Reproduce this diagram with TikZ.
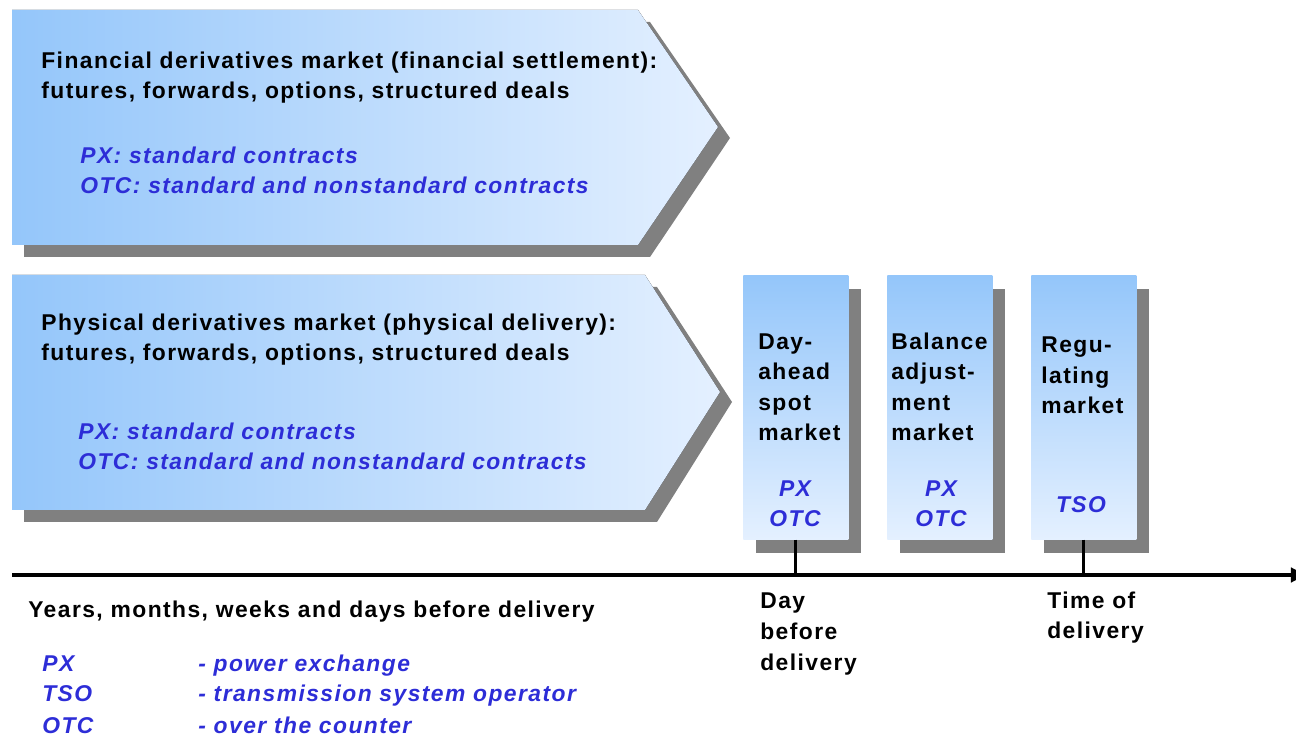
\documentclass[tikz,border=0pt]{standalone}
\usepackage{fontspec}
\setmainfont{Liberation Sans}[LetterSpace=6.3]
\usetikzlibrary{arrows.meta}

\definecolor{skyblue}{RGB}{148,198,250}
\definecolor{paleblue}{RGB}{228,240,255}
\definecolor{shadowgray}{RGB}{128,128,128}
\definecolor{abbrblue}{RGB}{45,45,215}

\tikzset{
  txt/.style={anchor=base west,inner sep=0pt,align=left,font=\fontsize{13}{17.4}\selectfont\bfseries},
  abbr/.style={txt,text=abbrblue,font=\fontsize{13}{17.4}\selectfont\bfseries\itshape},
  mkt/.style={anchor=north west,inner sep=0pt,minimum width=2.1cm,minimum height=5.28cm,
    top color=skyblue,bottom color=paleblue},
  tick/.style={line width=1.6pt,black},
  axisline/.style={line width=2.6pt,black}
}

\begin{document}
\begin{tikzpicture}[x=0.02cm,y=-0.02cm]
  \useasboundingbox (0,0) rectangle (1296,736);

  % shadows
  \fill[shadowgray] (24,22) -- (650,22) -- (730,138) -- (650,257) -- (24,257) -- cycle;
  \fill[shadowgray] (24,287) -- (657,287) -- (732,402) -- (657,522) -- (24,522) -- cycle;
  \fill[shadowgray] (756,289) rectangle (861,553);
  \fill[shadowgray] (900,289) rectangle (1005,553);
  \fill[shadowgray] (1044,289) rectangle (1149,553);

  \fill[left color=skyblue,right color=paleblue] (12,10) -- (638,10) -- (718,127) -- (638,245) -- (12,245) -- cycle;
  \fill[left color=skyblue,right color=paleblue] (12,275) -- (645,275) -- (720,392) -- (645,510) -- (12,510) -- cycle;

  \node[txt] (fin) at (41,99) {Financial derivatives market (financial settlement):\\futures, forwards, options, structured deals};
  \node[abbr] (finpx) at (80,194) {PX: standard contracts\\OTC: standard and nonstandard contracts};
  \node[txt] (phys) at (41,361) {Physical derivatives market (physical delivery):\\futures, forwards, options, structured deals};
  \node[abbr] (physpx) at (78,470) {PX: standard contracts\\OTC: standard and nonstandard contracts};

  \node[mkt] (day) at (743,275) {};
  \node[mkt] (bal) at (887,275) {};
  \node[mkt] (reg) at (1031,275) {};

  \node[txt] (daytxt) at (758,441) {Day-\\ahead\\spot\\market};
  \node[abbr,anchor=base,align=center] (dayabbr) at (795,527) {PX\\OTC};
  \node[txt] (baltxt) at (891,441) {Balance\\adjust-\\ment\\market};
  \node[abbr,anchor=base,align=center] (balabbr) at (941,527) {PX\\OTC};
  \node[txt] (regtxt) at (1041,414) {Regu-\\lating\\market};
  \node[abbr,anchor=base] (regabbr) at (1081,513) {TSO};

  \coordinate (axisL) at (12,575);
  \coordinate (axisR) at (1312,575);
  \draw[axisline,-{Latex[length=12pt]}] (axisL) -- (axisR);
  \draw[tick] (day.south) -- (day.south |- axisL);
  \draw[tick] (reg.south) -- (reg.south |- axisL);

  \node[txt] (years) at (28,618) {Years, months, weeks and days before delivery};
  \node[txt] (daybefore) at (760,670) {Day\\before\\delivery};
  \node[txt] (timeof) at (1047,639) {Time of\\delivery};

  \node[abbr] (px) at (42,672) {PX};
  \node[abbr] (tso) at (42,702) {TSO};
  \node[abbr] (otc) at (42,733) {OTC};
  \node[abbr] (pxdef) at (198,672) {- power exchange};
  \node[abbr] (tsodef) at (198,702) {- transmission system operator};
  \node[abbr] (otcdef) at (198,733) {- over the counter};
\end{tikzpicture}
\end{document}
